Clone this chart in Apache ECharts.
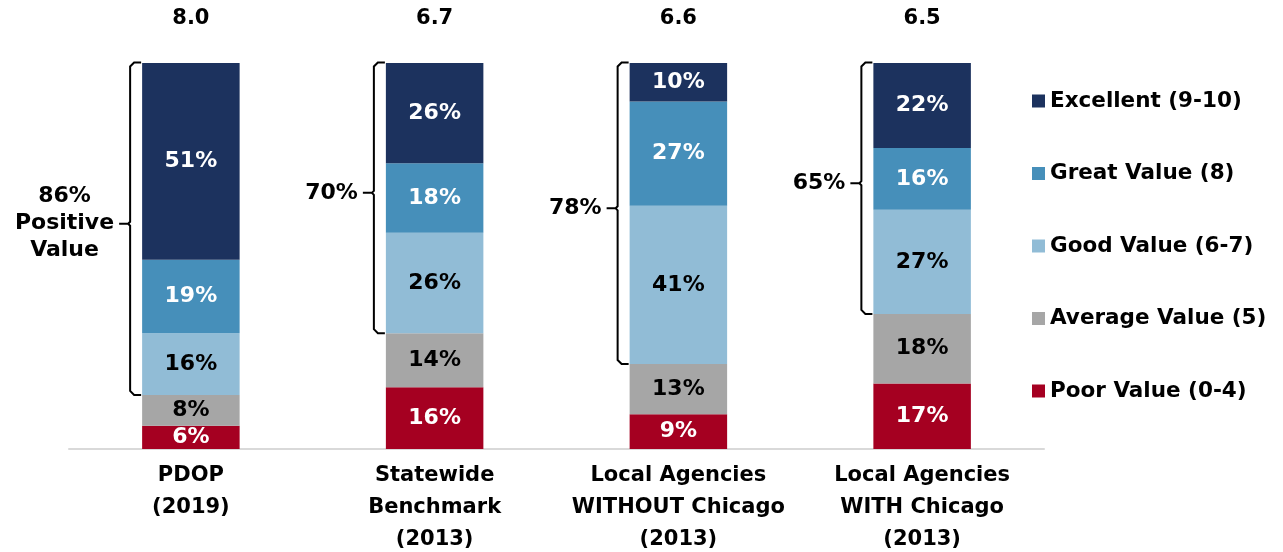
<!DOCTYPE html>
<html lang="en">
<head>
<meta charset="UTF-8">
<title>Value rating</title>
<script src="https://cdn.jsdelivr.net/npm/echarts@6/dist/echarts.min.js"></script>
<style>
    html, body { margin: 0; padding: 0; background: #fff; }
    #chart { width: 1283px; height: 552px; }
</style>
</head>
<body>
<div id="chart"></div>
<script>
    // categories on the bottom axis, average score shown above each bar
    var categories = ['PDOP\n(2019)', 'Statewide\nBenchmark\n(2013)', 'Local Agencies\nWITHOUT Chicago\n(2013)', 'Local Agencies\nWITH Chicago\n(2013)'];
    var scores = ['8.0', '6.7', '6.6', '6.5'];

    // percent of answers per rating (one value per category)
    var poor = [6, 16, 9, 17];
    var average = [8, 14, 13, 18];
    var good = [16, 26, 41, 27];
    var great = [19, 18, 27, 16];
    var excellent = [51, 26, 10, 22];

    // extra text under the bracket percentage
    var bracketSuffix = ['\nPositive\nValue', '', '', ''];

    var FONT = '"DejaVu Sans", Verdana, sans-serif';

    var seriesList = [
        {name: 'Poor Value (0-4)', data: poor, color: '#a50021', text: '#fff'},
        {name: 'Average Value (5)', data: average, color: '#a6a6a6', text: '#000'},
        {name: 'Good Value (6-7)', data: good, color: '#91bcd6', text: '#000'},
        {name: 'Great Value (8)', data: great, color: '#468fba', text: '#fff'},
        {name: 'Excellent (9-10)', data: excellent, color: '#1c325e', text: '#fff'}
    ];

    var chart = echarts.init(document.getElementById('chart'));

    var option = {
        animation: false,
        grid: {left: 69, right: 239, top: 63, bottom: 103, containLabel: false, outerBoundsMode: 'none'},
        legend: {
            orient: 'vertical',
            left: 1032,
            top: 90,
            padding: 0,
            itemWidth: 13,
            itemHeight: 13,
            itemGap: 50.5,
            icon: 'rect',
            selectedMode: false,
            data: seriesList.map(function (s) { return s.name; }).reverse(),
            textStyle: {fontFamily: FONT, fontSize: 21.5, fontWeight: 'bold', color: '#000', lineHeight: 20}
        },
        xAxis: [
            {
                type: 'category',
                data: categories,
                axisLine: {lineStyle: {color: '#d9d9d9', width: 2}},
                axisTick: {show: false},
                axisLabel: {
                    interval: 0, margin: 11, fontFamily: FONT, fontSize: 21,
                    fontWeight: 'bold', color: '#000', lineHeight: 32
                }
            },
            {
                type: 'category',
                position: 'top',
                data: scores,
                axisLine: {show: false},
                axisTick: {show: false},
                axisLabel: {
                    interval: 0, margin: 32, fontFamily: FONT, fontSize: 21,
                    fontWeight: 'bold', color: '#000', lineHeight: 24
                }
            }
        ],
        yAxis: {type: 'value', min: 0, max: 100, show: false, splitLine: {show: false}},
        series: seriesList.map(function (s) {
            return {
                name: s.name,
                type: 'bar',
                stack: 'all',
                barWidth: '40%',
                data: s.data,
                itemStyle: {color: s.color},
                label: {
                    show: true,
                    position: 'inside',
                    formatter: '{c}%',
                    fontFamily: FONT,
                    fontSize: 22,
                    fontWeight: 'bold',
                    color: s.text
                }
            };
        })
    };

    chart.setOption(option);

    // brackets grouping the positive ratings (good + great + excellent)
    var ctx = document.createElement('canvas').getContext('2d');
    ctx.font = 'bold 22px ' + FONT;

    var p0 = chart.convertToPixel({xAxisIndex: 0, yAxisIndex: 0}, [0, 0]);
    var p1 = chart.convertToPixel({xAxisIndex: 0, yAxisIndex: 0}, [1, 0]);
    var barW = (p1[0] - p0[0]) * 0.4;

    var graphics = [];
    categories.forEach(function (c, i) {
        var low = poor[i] + average[i];
        var total = low + good[i] + great[i] + excellent[i];
        var pct = good[i] + great[i] + excellent[i];
        var top = chart.convertToPixel({xAxisIndex: 0, yAxisIndex: 0}, [i, total]);
        var bot = chart.convertToPixel({xAxisIndex: 0, yAxisIndex: 0}, [i, low]);
        var barLeft = top[0] - barW / 2;
        var vx = barLeft - 12;
        var yT = top[1] - 0.5, yB = bot[1];
        var yM = (yT + yB) / 2 - 5;
        var tick = vx - 11;
        graphics.push({
            type: 'polyline',
            shape: {points: [
                [barLeft - 1, yT], [vx + 4, yT], [vx, yT + 4], [vx, yM - 2], [vx - 2, yM], [tick, yM],
                [vx - 2, yM], [vx, yM + 2], [vx, yB - 4], [vx + 4, yB], [barLeft - 1, yB]
            ]},
            style: {stroke: '#000', lineWidth: 2, fill: null}
        });
        var txt = pct + '%' + bracketSuffix[i];
        var lines = txt.split('\n');
        var maxW = Math.max.apply(null, lines.map(function (l) { return ctx.measureText(l).width; }));
        graphics.push({
            type: 'text',
            x: tick - 5 - maxW / 2,
            y: yM,
            style: {
                text: txt,
                font: 'bold 22px ' + FONT,
                fill: '#000',
                align: 'center',
                verticalAlign: 'middle',
                lineHeight: 27
            }
        });
    });

    chart.setOption({graphic: graphics});
</script>
</body>
</html>
